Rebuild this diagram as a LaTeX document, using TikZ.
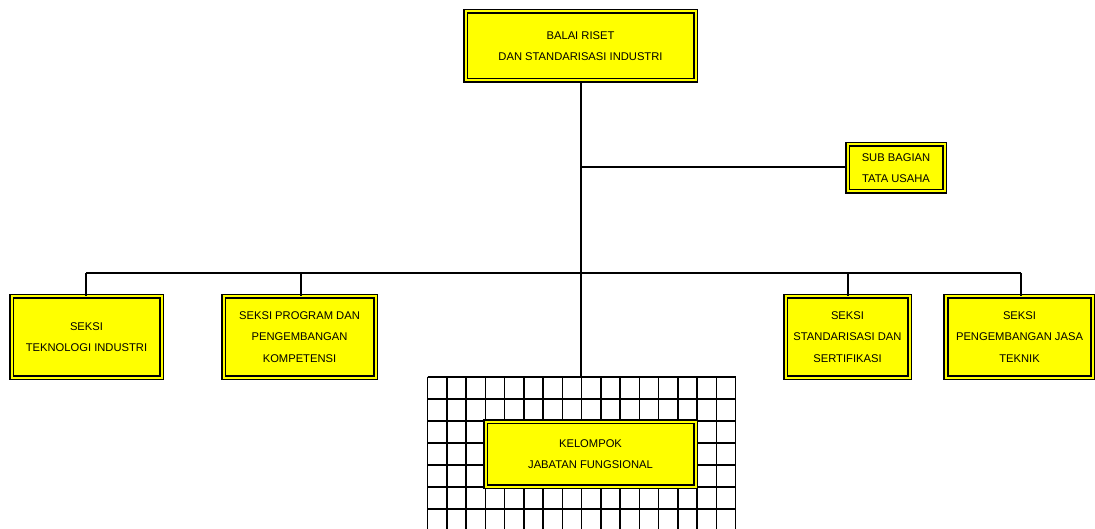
\documentclass[tikz,border=0pt]{standalone}
\usepackage{fontspec}
\setmainfont{Liberation Sans}
\definecolor{boxyellow}{RGB}{255,255,0}
\begin{document}
\begin{tikzpicture}[x=1pt,y=-1pt,
  box/.style={draw=black, line width=1.6pt, double=boxyellow, double distance=2pt, fill=boxyellow,
    inner sep=0pt, align=center, font=\fontsize{11.2}{21.5}\selectfont},
  conn/.style={line width=1.7pt},
  gridline/.style={line width=1.5pt}]
\useasboundingbox (0,0) rectangle (1095,529);
% grid
\foreach \i in {0,...,16} \draw[gridline] (427.5+\i*19.25,376.5) -- (427.5+\i*19.25,529);
\foreach \j in {0,...,6} \draw[gridline] (427.5,377+\j*22) -- (735.5,377+\j*22);
\coordinate (gtop) at (581,376.5);
% nodes
\node[box, minimum width=230pt, minimum height=69pt] (top) at (580.5,46) {BALAI RISET\\DAN STANDARISASI INDUSTRI};
\node[box, minimum width=97pt, minimum height=47pt] (sub) at (896,168) {SUB BAGIAN\\TATA USAHA};
\node[box, minimum width=150pt, minimum height=81pt] (s1) at (86.5,337) {SEKSI\\TEKNOLOGI INDUSTRI};
\node[box, minimum width=152pt, minimum height=81pt] (s2) at (299.5,337) {SEKSI PROGRAM DAN\\PENGEMBANGAN\\KOMPETENSI};
\node[box, minimum width=124pt, minimum height=81pt] (s3) at (847.5,337) {SEKSI\\STANDARISASI DAN\\SERTIFIKASI};
\node[box, minimum width=147pt, minimum height=81pt] (s4) at (1019.5,337) {SEKSI\\PENGEMBANGAN JASA\\TEKNIK};
\node[box, minimum width=210pt, minimum height=65pt] (kf) at (590.5,454) {KELOMPOK\\JABATAN FUNGSIONAL};
% connectors
\coordinate (j1) at (581,167);
\coordinate (busl) at (86,273);
\coordinate (busr) at (1021,273);
\draw[conn] (top.south -| gtop) -- (gtop);
\draw[conn] (j1) -- (sub.west |- j1);
\draw[conn] (busl) -- (busr);
\draw[conn] (busl) -- (s1.north -| busl);
\draw[conn] (301,273) -- (s2.north -| 301,0);
\draw[conn] (848,273) -- (s3.north -| 848,0);
\draw[conn] (busr) -- (s4.north -| busr);
\end{tikzpicture}
\end{document}
